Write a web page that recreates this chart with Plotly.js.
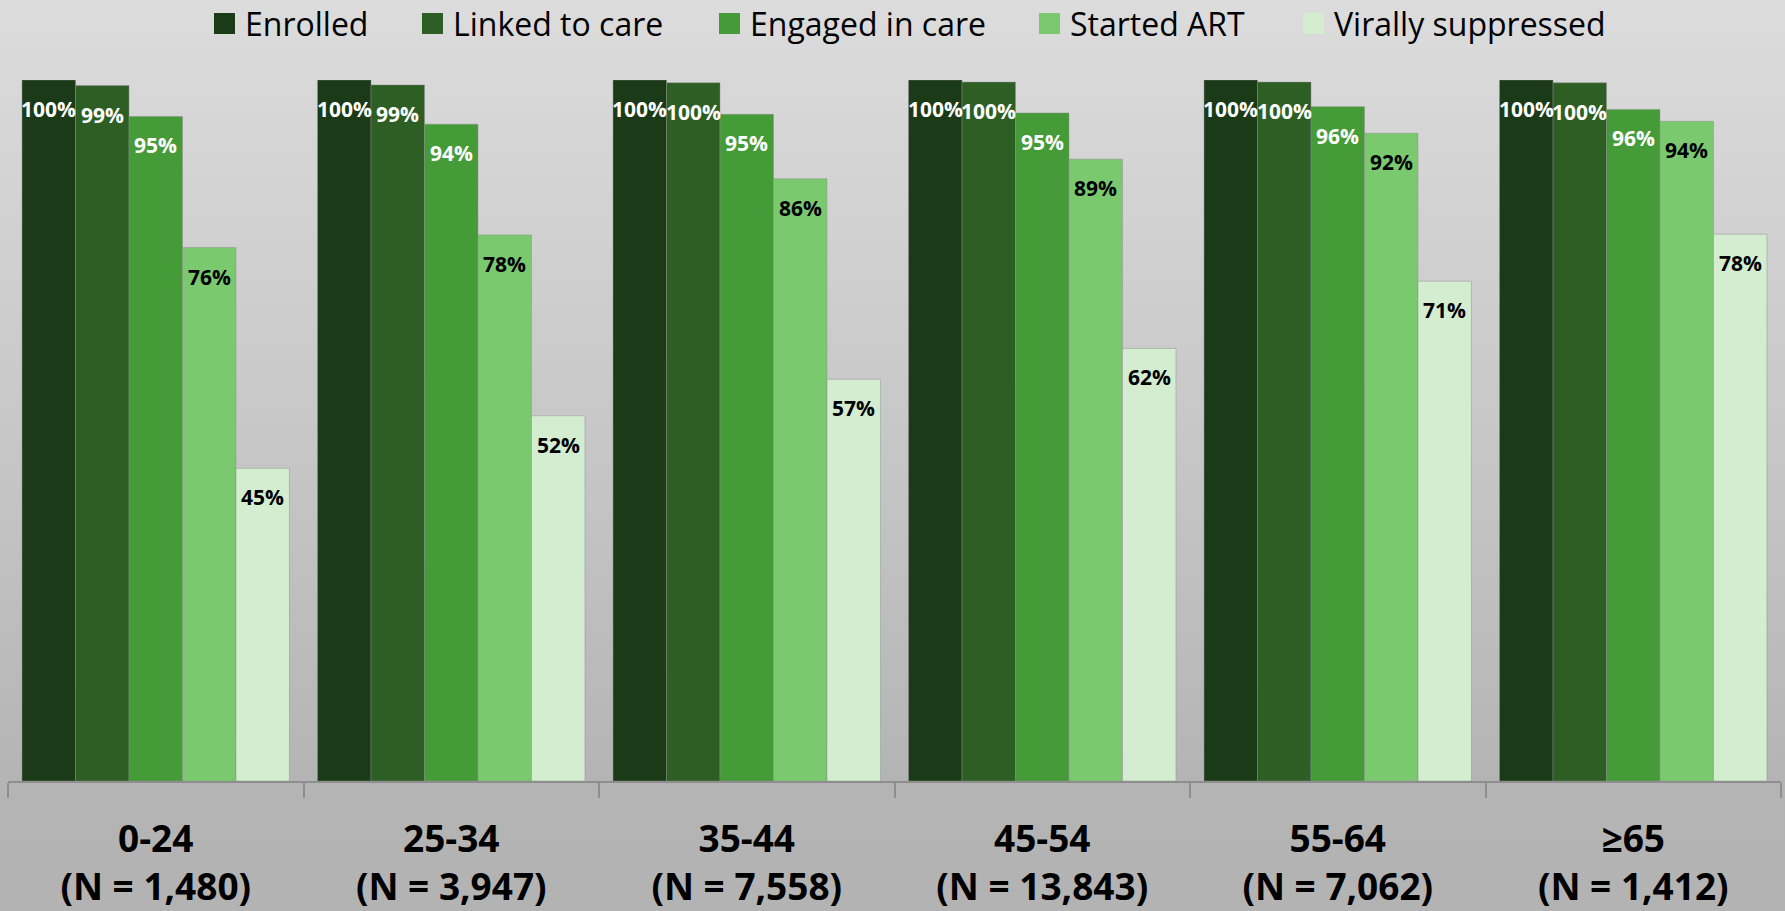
<!DOCTYPE html>
<html>
<head>
<meta charset="utf-8">
<script src="https://cdn.plot.ly/plotly-3.0.1.min.js"></script>
<style>
  html, body { margin: 0; padding: 0; }
  body { width: 1785px; height: 911px; background: linear-gradient(to bottom, #dcdcdc 0%, #c6c6c6 50%, #b4b4b4 86%, #b3b3b3 100%); }
  #chart { width: 1785px; height: 911px; }
</style>
</head>
<body>
<div id="chart"></div>
<script>
// ---- data ----
const categories = ['0-24<br>(N = 1,480)', '25-34<br>(N = 3,947)', '35-44<br>(N = 7,558)',
                    '45-54<br>(N = 13,843)', '55-64<br>(N = 7,062)', '\u226565<br>(N = 1,412)'];
const seriesNames = ['Enrolled', 'Linked to care', 'Engaged in care', 'Started ART', 'Virally suppressed'];
const enrolled  = [1.000, 1.000, 1.000, 1.000, 1.000, 1.000];
const linked    = [0.992, 0.993, 0.996, 0.997, 0.997, 0.996];
const engaged   = [0.948, 0.937, 0.951, 0.953, 0.962, 0.958];
const startedArt = [0.761, 0.779, 0.859, 0.887, 0.924, 0.941];
const suppressed = [0.446, 0.521, 0.573, 0.617, 0.713, 0.780];
const seriesValues = [enrolled, linked, engaged, startedArt, suppressed];

// ---- style ----
const colors = ['#1b3a17', '#2d5f24', '#469b39', '#7bc96f', '#d4edd1'];
const labelColors = ['#ffffff', '#ffffff', '#ffffff', '#000000', '#000000'];
const legendLefts = [214, 422, 719, 1039, 1303]; // px positions of legend squares
const W = 1785, H = 911;
const M = { l: 8, r: 4, t: 80, b: 130 };
const plotW = W - M.l - M.r, plotH = H - M.t - M.b;
const bargap = 0.095;
const nSeries = seriesNames.length;
const barW = (1 - bargap) / nSeries;

const traces = seriesNames.map((name, j) => ({
  type: 'bar',
  name: name,
  x: categories,
  y: seriesValues[j],
  marker: { color: colors[j], line: { color: 'rgba(140,140,140,0.45)', width: 1 } },
  showlegend: false,
  hoverinfo: 'x+y+name'
}));

const annotations = [];
seriesValues.forEach((vals, j) => {
  vals.forEach((v, i) => {
    annotations.push({
      xref: 'x', yref: 'y',
      x: i + (j - (nSeries - 1) / 2) * barW,
      y: v,
      yanchor: 'middle', xanchor: 'center',
      yshift: -29,
      showarrow: false,
      text: Math.round(v * 100) + '%',
      font: { family: 'Open Sans, sans-serif', size: 21, weight: 700, color: labelColors[j] }
    });
  });
});

// legend (squares + names) placed above the plot
const px2x = px => (px - M.l) / plotW;
const py2y = py => (H - M.b - py) / plotH;
const shapes = [];
const legendSize = 21, legendCenterY = 23.5;
seriesNames.forEach((name, j) => {
  shapes.push({
    type: 'rect', xref: 'paper', yref: 'paper',
    x0: px2x(legendLefts[j]), x1: px2x(legendLefts[j] + legendSize),
    y0: py2y(legendCenterY + legendSize / 2), y1: py2y(legendCenterY - legendSize / 2),
    fillcolor: colors[j], line: { width: 0 }
  });
  annotations.push({
    xref: 'paper', yref: 'paper',
    x: px2x(legendLefts[j] + 29), y: py2y(legendCenterY),
    xanchor: 'left', yanchor: 'middle', showarrow: false,
    text: name,
    font: { family: 'Open Sans, sans-serif', size: 32, color: '#000' }
  });
});

const layout = {
  width: W, height: H,
  paper_bgcolor: 'rgba(0,0,0,0)',
  plot_bgcolor: 'rgba(0,0,0,0)',
  margin: M,
  barmode: 'group',
  bargap: bargap,
  bargroupgap: 0,
  font: { family: 'Open Sans, sans-serif', color: '#000' },
  xaxis: {
    type: 'category',
    showline: true, linecolor: '#8e8e8e', linewidth: 1.5,
    ticks: 'outside', tickson: 'boundaries', ticklen: 15, tickcolor: '#8e8e8e', tickwidth: 1.5,
    tickfont: { family: 'Open Sans, sans-serif', size: 37, weight: 700, color: '#000' },
    ticklabelstandoff: 25,
    showgrid: false, zeroline: false, fixedrange: true
  },
  yaxis: {
    range: [0, 1], visible: false, showgrid: false, zeroline: false, fixedrange: true
  },
  annotations: annotations,
  shapes: shapes,
  showlegend: false
};

Plotly.newPlot('chart', traces, layout, { displayModeBar: false });
</script>
</body>
</html>
